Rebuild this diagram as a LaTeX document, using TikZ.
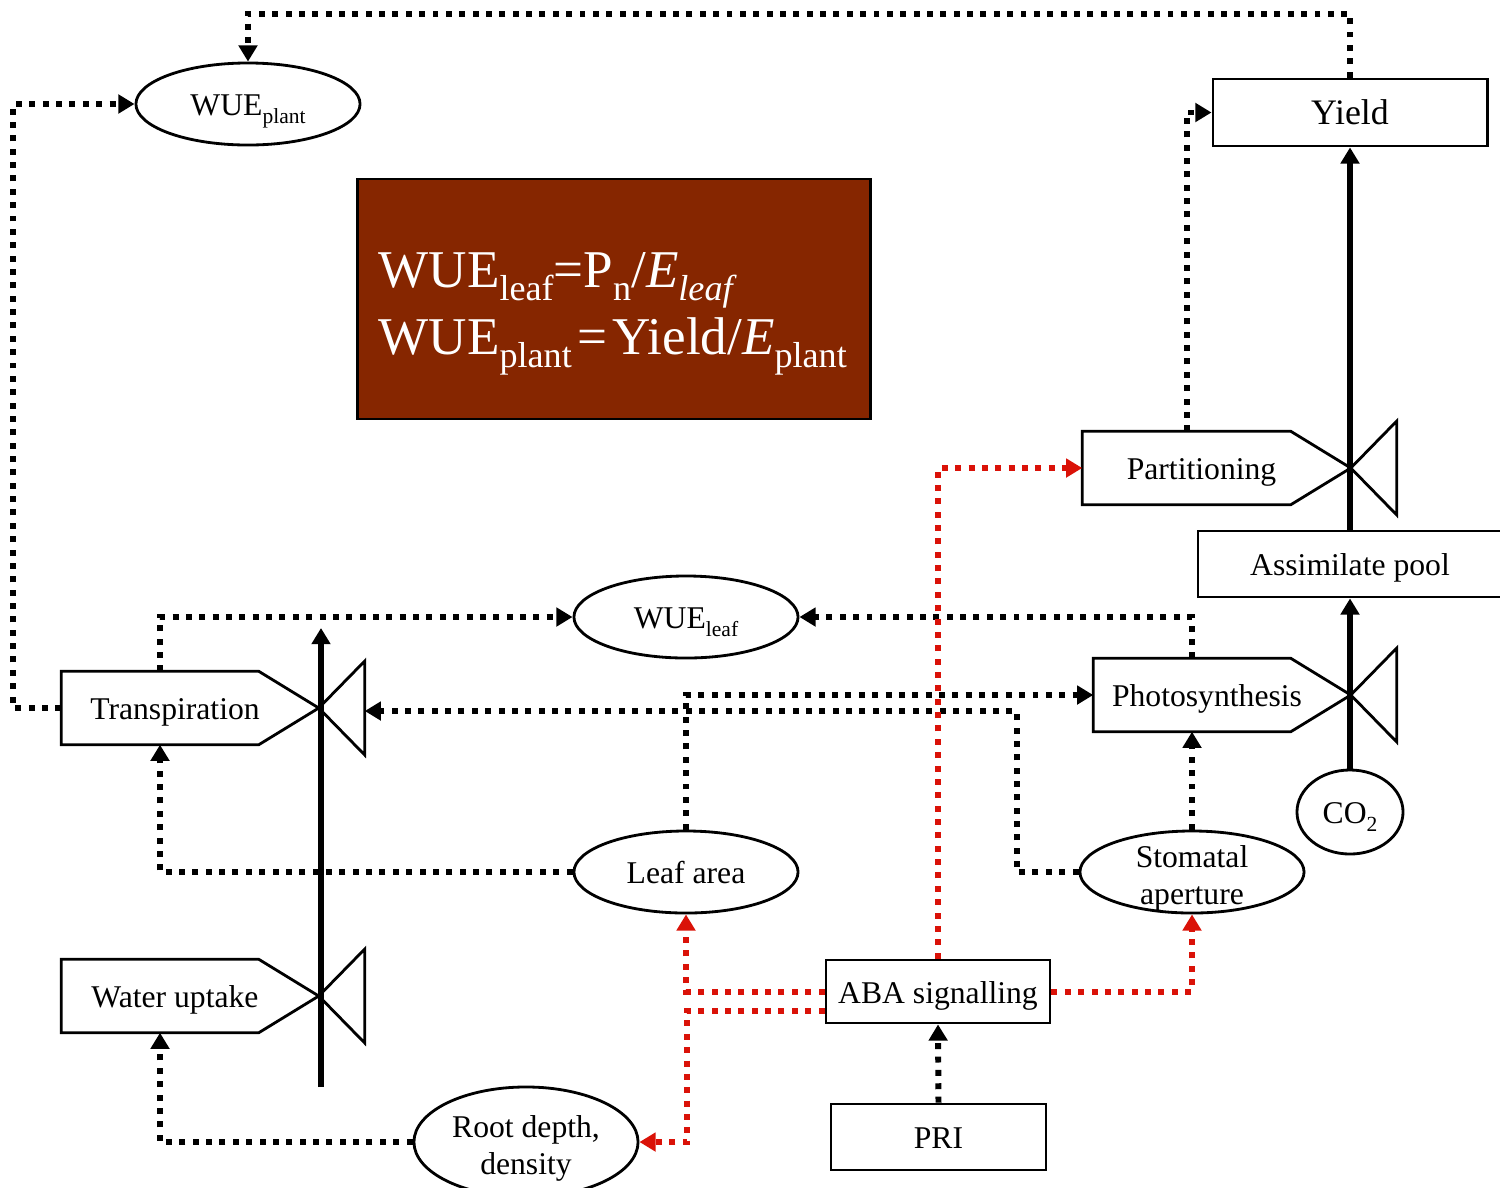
\documentclass[tikz,border=0pt]{standalone}
\usepackage{fontspec}
\setmainfont{Liberation Serif}
\usetikzlibrary{arrows.meta,shapes.geometric,calc}
\definecolor{abared}{RGB}{218,18,8}
\definecolor{boxbrown}{RGB}{134,38,0}
\newcommand{\lbsize}{\fontsize{9}{10.5}\selectfont}
\newcommand{\sbs}[1]{\raisebox{-0.25em}{\scalebox{0.68}{#1}}}
% box with pointer and valve on its right
\newcommand{\procshape}[1]{%
  \draw[bdr] (#1.north west) -- (#1.north east) -- ($(#1.east)+(60,0)$)
    -- (#1.south east) -- (#1.south west) -- cycle;
  \draw[bdr] ($(#1.east)+(60,0)$) -- ($(#1.east)+(106,-47)$)
    -- ($(#1.east)+(106,47)$) -- cycle;
}

\begin{document}
\begin{tikzpicture}[
  x=0.01cm, y=-0.01cm,
  every node/.style={font=\lbsize},
  bdr/.style={line width=0.8pt},
  line/.style={text height=0.89em,text depth=0.22em},
  rbox/.style={draw,bdr,rectangle,inner sep=0pt,line},
  oval/.style={draw,bdr,ellipse,minimum width=2.24cm,minimum height=0.82cm,inner sep=0pt,line},
  proc/.style={rectangle,minimum height=0.72cm,inner sep=0pt},
  plbl/.style={xshift=0.15cm,line},
  lbl2/.style={align=center,yshift=-0.06cm},
  dotline/.style={line width=1.7pt,dash pattern=on 1.7pt off 2.1pt,
                  -{Triangle[length=4.6pt,width=5.2pt]}},
  reddots/.style={dotline,abared},
  flow/.style={line width=1.6pt,-{Triangle[length=4.6pt,width=5.2pt]}},
]
\useasboundingbox (0,0) rectangle (1500,1187);
\clip (0,0) rectangle (1500,1187);

% nodes
\node[oval] (wueplant) at (248,104) {WUE\sbs{plant}};
\node[rbox,minimum width=2.74cm,minimum height=0.67cm,
      font=\fontsize{10.2}{12}\selectfont] (yield) at (1350,112.5) {Yield};
\node[rbox,fill=boxbrown,minimum width=5.12cm,minimum height=2.4cm] (formula) at (614,299) {};
\node[anchor=base west,text=white,inner sep=0pt,font=\fontsize{15.1}{18}\selectfont] (f1)
  at (378,287) {WUE\sbs{leaf}=P\sbs{n}/\textit{E}\sbs{\textit{leaf}}};
\node[anchor=base west,text=white,inner sep=0pt,font=\fontsize{15.1}{18}\selectfont] (f2)
  at (378,354) {WUE\sbs{plant}\kern0.1em=\kern0.1em Yield/\textit{E}\sbs{plant}};

\node[proc,minimum width=2.07cm,label={[plbl]center:Partitioning}] (partit) at (1186.5,468) {};
\node[rbox,minimum width=3.04cm,minimum height=0.66cm] (pool) at (1350,564) {Assimilate pool};
\node[proc,minimum width=1.96cm,label={[plbl]center:Photosynthesis}] (photo) at (1192,695) {};
\node[oval,minimum width=1.06cm,minimum height=0.84cm] (co2) at (1350,812) {CO\sbs{2}};
\node[oval] (wueleaf) at (686,617) {WUE\sbs{leaf}};
\node[proc,minimum width=1.96cm,label={[plbl]center:Transpiration}] (transp) at (160,708) {};
\node[proc,minimum width=1.96cm,label={[plbl]center:Water uptake}] (water) at (160,996) {};
\node[oval] (leafarea) at (686,872) {Leaf area};
\node[oval,label={[lbl2]center:Stomatal\\aperture}] (stomata) at (1192,872) {};
\node[rbox,minimum width=2.24cm,minimum height=0.63cm] (aba) at (938,991.5) {ABA signalling};
\node[rbox,minimum width=2.15cm,minimum height=0.66cm] (pri) at (938.5,1137) {PRI};
\node[oval,minimum height=1.1cm,label={[lbl2]center:Root depth,\\density}] (root) at (526,1142) {};

\procshape{partit}
\procshape{photo}
\procshape{transp}
\procshape{water}

% solid flows
\coordinate (tbot) at (321,1087);
\coordinate (ttop) at (321,628);
\draw[flow] (pool.north) -- (yield.south);
\draw[flow] (co2.north) -- (pool.south);
\draw[flow] (tbot) -- (ttop);

% dotted links
\coordinate (tvalve) at ($(transp.east)+(106,3)$);
\draw[dotline] (yield.north) |- ($(wueplant.north)+(0,-48)$) -- (wueplant.north);
\draw[dotline] (transp.west) -- ++(-48,0) |- (wueplant.west);
\draw[dotline] (partit.north) |- (yield.west);
\draw[dotline] (transp.north) |- (wueleaf.west);
\draw[dotline] (photo.north) |- (wueleaf.east);
\draw[dotline] (leafarea.north) |- (photo.west);
\draw[dotline] (stomata.west) -- ++(-62,0) |- (tvalve);
\draw[dotline] (leafarea.west) -| (transp.south);
\draw[dotline] (stomata.north) -- (photo.south);
\draw[dotline] (pri.north) -- (aba.south);
\draw[dotline] (root.west) -| (water.south);

% ABA links
\draw[reddots] (aba.north) |- (partit.west);
\draw[reddots] (aba.west) -| (leafarea.south);
\draw[reddots] ($(aba.west)+(0,19)$) -| ($(root.east)+(48,0)$) -- (root.east);
\draw[reddots] (aba.east) -| (stomata.south);
\end{tikzpicture}
\end{document}
